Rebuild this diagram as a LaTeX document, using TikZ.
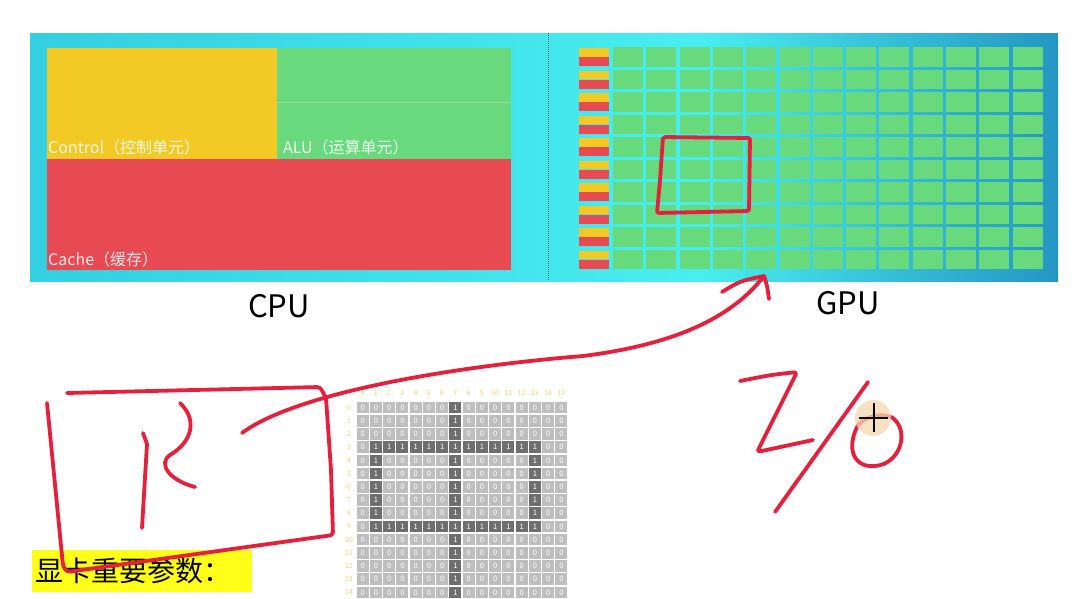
\documentclass[tikz,border=0pt]{standalone}
\usepackage{fontspec}
\setmainfont{Noto Sans CJK SC}
\usetikzlibrary{arrows.meta}
\usepackage{xcolor}
\definecolor{ctrl}{HTML}{F2C925}
\definecolor{alu}{HTML}{68D97C}
\definecolor{cache}{HTML}{E84A54}
\definecolor{ink}{HTML}{E5203C}
\definecolor{cell}{HTML}{BEBEBE}
\definecolor{cellon}{HTML}{6E6E6E}
\definecolor{idx}{HTML}{E6D36A}
\definecolor{hl}{HTML}{FFFF1A}
\definecolor{peach}{HTML}{F6D7AE}
\definecolor{panelL}{HTML}{34CFE0}
\definecolor{panelM}{HTML}{48EEF0}
\definecolor{panelR}{HTML}{2596C2}
\definecolor{panelD}{HTML}{1B4A66}

\begin{document}
\begin{tikzpicture}[x=1pt, y=-1pt,
    pen/.style={draw=ink, line width=3.8pt, line cap=round, line join=round},
    unit/.style={text=white, opacity=.88, anchor=base west, inner sep=0pt, font=\fontsize{16}{16}\selectfont},
    chip/.style={inner sep=0pt, font=\fontsize{31}{31}\selectfont},
    idxlbl/.style={text=idx, inner sep=0pt, font=\fontsize{7}{7}\selectfont},
    bit/.style={text=white, inner sep=0pt, minimum width=11.8pt, minimum height=11.7pt, font=\fontsize{7.5}{7.5}\selectfont}]
    \useasboundingbox (0,0) rectangle (1090,598);
    % panel
    \fill[left color=panelL, right color=panelM] (30,33) rectangle (700,281);
    \fill[left color=panelM, right color=panelR] (699.5,33) rectangle (1058,281);
    \draw[panelD, densely dotted, line width=1pt] (548,33) -- (548,281);
    % cpu side
    \fill[ctrl] (47,48) rectangle (277,159);
    \fill[alu] (277,48) rectangle (511,159);
    \draw[white, opacity=.25] (277,102) -- (511,102);
    \fill[cache] (47,159) rectangle (511,270);
    \node[unit] (ctrlname) at (48,153) {Control（控制单元）};
    \node[unit] (aluname) at (283,153) {ALU（运算单元）};
    \node[unit] (cachename) at (48,265) {Cache（缓存）};
    % gpu side
    \foreach \r [evaluate=\r as \y using 47.3+22.5*\r] in {0,...,9} {
        \fill[ctrl] (579,\y+1) rectangle (609,\y+9.5);
        \fill[cache] (579,\y+10) rectangle (609,\y+18.8);
        \foreach \c in {0,...,12}
            \fill[alu] (613+33.3*\c,\y) rectangle +(30,19.3);
    }
    \node[chip] (cpu) at (279,306) {CPU};
    \node[chip] (gpu) at (848,303) {GPU};
    % bit grid
    \foreach \c in {0,...,15}
        \node[idxlbl] (h\c) at (362.6+13.25*\c,393) {\c};
    \foreach \r in {0,...,14} {
        \node[idxlbl] (v\r) at (349,407.6+13.2*\r) {\r};
        \foreach \c in {0,...,15} {
            \pgfmathtruncatemacro\on{(\c==7) || ((\r==3 || \r==9) && \c>0 && \c<14) || ((\c==1 || \c==13) && \r>2 && \r<10)}
            \ifnum\on=1 \def\celltone{cellon}\else\def\celltone{cell}\fi
            \node[bit, fill=\celltone] (b\r-\c) at (362.6+13.25*\c,407.6+13.2*\r) {\on};
        }
    }
    \node[fill=hl, anchor=west, inner xsep=3pt, inner ysep=0pt, text width=214pt, minimum height=42pt, font=\fontsize{28}{28}\selectfont] (param) at (32,571) {显卡重要参数：};
    % pen strokes
    \draw[pen, rounded corners=2pt] (663,137) -- (750,138) -- (749,211) -- (657,213) -- (660,180) -- cycle;
    \draw[pen, rounded corners=3pt] (47,403) -- (63,566) -- (67,572) -- (333,535) -- (331,470) -- (326,398) -- (320,387) -- (67,393);
    \draw[pen] (143,433) -- (147,444) -- (142,528);
    \draw[pen] (180,403) .. controls (198,420) and (192,442) .. (170,455) .. controls (158,463) and (168,480) .. (195,487);
    \coordinate (from) at (242,433);
    \coordinate (to) at (764,276);
    \draw[pen] (from) .. controls (300,390) and (470,365) .. (583,356) .. controls (670,345) and (730,320) .. (to);
    \draw[pen] (722,292) .. controls (740,281) .. (to) .. controls (767,285) .. (769,299);
    \draw[pen, rounded corners=3pt] (740,381) .. controls (770,375) .. (797,372) -- (757,452) -- (813,440);
    \draw[pen] (868,382) -- (775,512);
    \draw[pen] (858,425) .. controls (845,450) and (855,468) .. (875,466) .. controls (900,464) and (910,432) .. (893,418) .. controls (882,412) and (866,416) .. (858,425);
    \fill[peach, opacity=.75] (873,418) circle (18pt);
    \draw[line width=1.6pt] (859,418) -- (888,418) (874,403) -- (874,432);
\end{tikzpicture}
\end{document}
